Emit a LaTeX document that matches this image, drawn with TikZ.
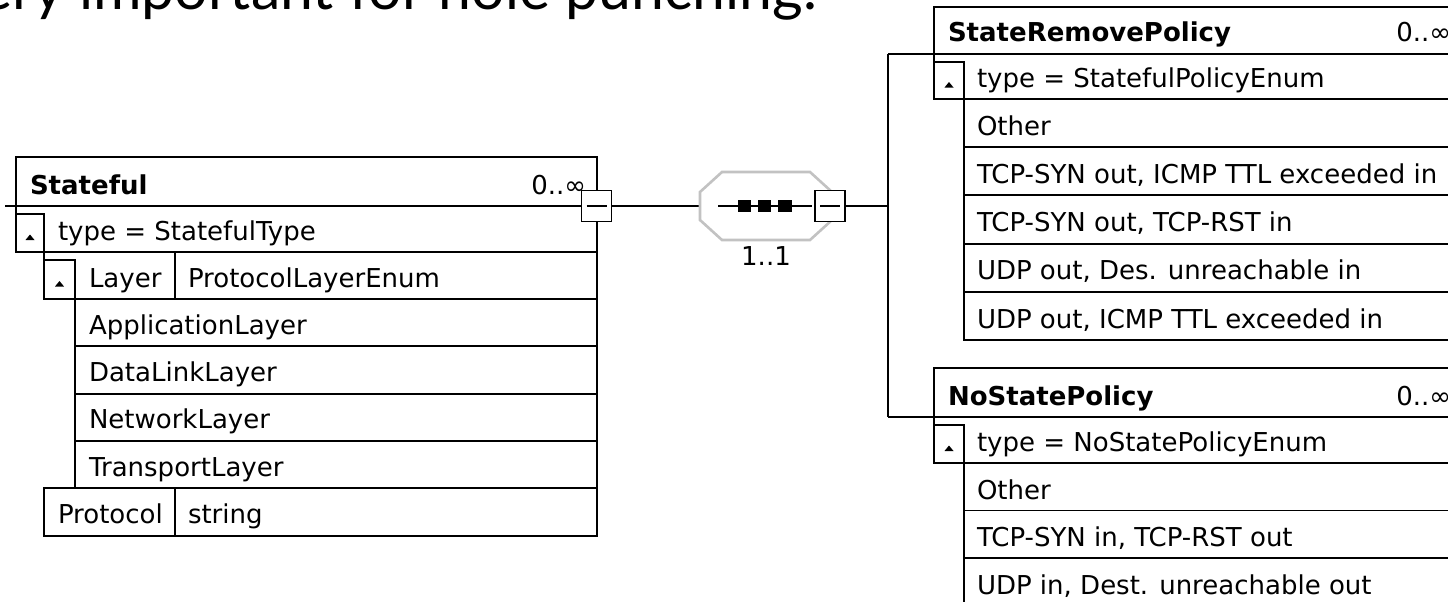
\documentclass[tikz,border=0pt]{standalone}
\usepackage{fontspec}
\setmainfont{DejaVu Sans}
\newfontfamily\headfont{Lato}
\usetikzlibrary{calc}
\begin{document}
\begin{tikzpicture}[x=1pt,y=-1pt,
  cell/.style={draw=black, line width=1.9pt, rectangle, inner sep=0pt, outer sep=0pt, anchor=north west, fill=white},
  btn/.style={cell},
  mbox/.style={draw=black, line width=1.9pt, rectangle, inner sep=0pt, outer sep=0pt, fill=white, minimum width=30pt, minimum height=31pt, anchor=center},
  txt/.style={inner sep=0pt, outer sep=0pt, anchor=base west, font=\fontsize{26}{30}\selectfont},
  ttl/.style={txt, font=\fontsize{26}{30}\selectfont\bfseries},
  crd/.style={txt, anchor=base east},
  wire/.style={draw=black, line width=1.9pt},
  octline/.style={draw=black!24, line width=2.6pt},
  tri/.style={fill=black}
]
\useasboundingbox (0,0) rectangle (1448,602);
\clip (0,0) rectangle (1448,602);
\fill[white] (0,0) rectangle (1448,602);

% heading (cut at top of picture)
\node[inner sep=0pt, outer sep=0pt, anchor=base east, font=\headfont\fontsize{59}{60}\selectfont] (hd) at (817,10) {very important for hole punching.};

% ---------------- Stateful ----------------
\node[cell, minimum width=581pt, minimum height=49pt] (sf) at (16,157) {};
\node[cell, minimum width=581pt, minimum height=46pt] (sfty) at (16,206) {};
\node[cell, minimum width=131pt, minimum height=47pt] (sflk) at (44,252) {};
\node[cell, minimum width=422pt, minimum height=47pt] (sflv) at (175,252) {};
\node[cell, minimum width=522pt, minimum height=47.3pt] (sfe1) at (75,299) {};
\node[cell, minimum width=522pt, minimum height=47.3pt] (sfe2) at (75,346.3) {};
\node[cell, minimum width=522pt, minimum height=47.3pt] (sfe3) at (75,393.6) {};
\node[cell, minimum width=522pt, minimum height=47.3pt] (sfe4) at (75,440.9) {};
\node[cell, minimum width=131pt, minimum height=47.5pt] (sfpk) at (44,488.2) {};
\node[cell, minimum width=422pt, minimum height=47.5pt] (sfpv) at (175,488.2) {};
\node[btn, minimum width=28pt, minimum height=38pt] (sfb1) at (16,214) {};
\node[btn, minimum width=31pt, minimum height=39pt] (sfb2) at (44,260) {};
\fill[tri] ($(sfb1.center)+(-4.5,7)$) -- ++(9,0) -- ++(-4.5,-5.5) -- cycle;
\fill[tri] ($(sfb2.center)+(-4.5,7)$) -- ++(9,0) -- ++(-4.5,-5.5) -- cycle;

\node[ttl] (sft) at (30,194.5) {Stateful};
\node[crd] (sfc) at (586,194.5) {0..∞};
\node[txt] (sftyt) at (58,240.5) {type = StatefulType};
\node[txt] (sflkt) at (89,287) {Layer};
\node[txt] (sflvt) at (188,287) {ProtocolLayerEnum};
\node[txt] (sfe1t) at (89,334.3) {ApplicationLayer};
\node[txt] (sfe2t) at (89,381.6) {DataLinkLayer};
\node[txt] (sfe3t) at (89,428.9) {NetworkLayer};
\node[txt] (sfe4t) at (89,476.2) {TransportLayer};
\node[txt] (sfpkt) at (58,523.7) {Protocol};
\node[txt] (sfpvt) at (188,523.7) {string};

\coordinate (inl) at (5,206);
\draw[wire] (inl) -- (sf.south west);
\node[mbox] (sfm) at (596.5,206) {};
\draw[wire] ($(sfm.center)+(-10,0)$) -- ($(sfm.center)+(10,0)$);

% ---------------- sequence compositor ----------------
\node[rectangle, inner sep=0pt, outer sep=0pt, minimum width=132pt, minimum height=68pt, anchor=north west] (oct) at (700,172) {};
\draw[wire] (sfm.east) -- (oct.west);
\draw[octline] ($(oct.north west)+(0,20)$) -- ($(oct.north west)+(22,0)$) -- ($(oct.north east)+(-22,0)$) -- ($(oct.north east)+(0,20)$) -- ($(oct.south east)+(0,-20)$) -- ($(oct.south east)+(-22,0)$) -- ($(oct.south west)+(22,0)$) -- ($(oct.south west)+(0,-20)$) -- cycle;
\draw[wire] ($(oct.west)+(18,0)$) -- ($(oct.west)+(112,0)$);
\fill ($(oct.west)+(38,-6)$) rectangle ++(13,12);
\fill ($(oct.west)+(58,-6)$) rectangle ++(13,12);
\fill ($(oct.west)+(78,-6)$) rectangle ++(14,12);
\node[mbox] (om) at (830,206) {};
\draw[wire] ($(om.center)+(-10,0)$) -- ($(om.center)+(10,0)$);
\node[txt, anchor=base] (card) at (766,265) {1..1};

% bus
\coordinate (busm) at (888,206);
\coordinate (bust) at (888,54);
\coordinate (busb) at (888,417);
\draw[wire] (om.east) -- (busm);
\draw[wire] (bust) -- (busb);

% ---------------- StateRemovePolicy ----------------
\node[cell, minimum width=527pt, minimum height=47pt] (srp) at (934,7) {};
\node[cell, minimum width=527pt, minimum height=45pt] (srpty) at (934,54) {};
\node[cell, minimum width=497pt, minimum height=48.2pt] (srpe1) at (964,99) {};
\node[cell, minimum width=497pt, minimum height=48.2pt] (srpe2) at (964,147.2) {};
\node[cell, minimum width=497pt, minimum height=48.2pt] (srpe3) at (964,195.4) {};
\node[cell, minimum width=497pt, minimum height=48.2pt] (srpe4) at (964,243.6) {};
\node[cell, minimum width=497pt, minimum height=48.2pt] (srpe5) at (964,291.8) {};
\node[btn, minimum width=30pt, minimum height=37pt] (srpb) at (934,62) {};
\fill[tri] ($(srpb.center)+(-4.5,7)$) -- ++(9,0) -- ++(-4.5,-5.5) -- cycle;
\draw[wire] (bust) -- (srp.south west);

\node[ttl] (srpt) at (948,42) {StateRemovePolicy};
\node[crd] (srpc) at (1451,42) {0..∞};
\node[txt] (srptyt) at (977,87.5) {type = StatefulPolicyEnum};
\node[txt] (srpe1t) at (977,135.2) {Other};
\node[txt] (srpe2t) at (977,183.4) {TCP-SYN out, ICMP TTL exceeded in};
\node[txt] (srpe3t) at (977,231.6) {TCP-SYN out, TCP-RST in};
\node[txt] (srpe4t) at (977,279.8) {UDP out, Des. unreachable in};
\node[txt] (srpe5t) at (977,328) {UDP out, ICMP TTL exceeded in};

% ---------------- NoStatePolicy ----------------
\node[cell, minimum width=527pt, minimum height=49pt] (nsp) at (934,368) {};
\node[cell, minimum width=527pt, minimum height=46pt] (nspty) at (934,417) {};
\node[cell, minimum width=497pt, minimum height=47.5pt] (nspe1) at (964,463) {};
\node[cell, minimum width=497pt, minimum height=47.5pt] (nspe2) at (964,510.5) {};
\node[cell, minimum width=497pt, minimum height=47.5pt] (nspe3) at (964,558) {};
\node[btn, minimum width=30pt, minimum height=38pt] (nspb) at (934,425) {};
\fill[tri] ($(nspb.center)+(-4.5,7)$) -- ++(9,0) -- ++(-4.5,-5.5) -- cycle;
\draw[wire] (busb) -- (nsp.south west);

\node[ttl] (nspt) at (948,405) {NoStatePolicy};
\node[crd] (nspc) at (1451,405) {0..∞};
\node[txt] (nsptyt) at (977,451.5) {type = NoStatePolicyEnum};
\node[txt] (nspe1t) at (977,499) {Other};
\node[txt] (nspe2t) at (977,546.5) {TCP-SYN in, TCP-RST out};
\node[txt] (nspe3t) at (977,594) {UDP in, Dest. unreachable out};
\end{tikzpicture}
\end{document}
